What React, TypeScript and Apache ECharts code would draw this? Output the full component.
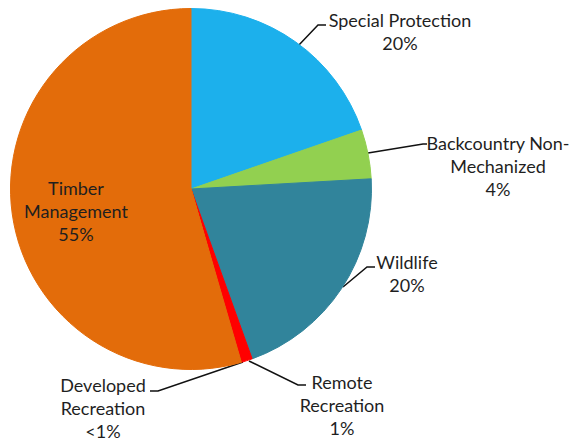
import React, { useEffect, useRef } from "react";
import * as echarts from "echarts";

const categories = [
  "Special Protection",
  "Backcountry Non-Mechanized",
  "Wildlife",
  "Remote Recreation",
  "Developed Recreation",
  "Timber Management",
];
const labelNames = [
  "Special Protection",
  "Backcountry Non-\nMechanized",
  "Wildlife",
  "Remote\nRecreation",
  "Developed\nRecreation",
  "Timber\nManagement",
];
const values = [19.7, 4.4, 20.4, 1.0, 0.1, 54.4];
const percentLabels = ["20%", "4%", "20%", "1%", "<1%", "55%"];
const colors = ["#1CB0EC", "#92D050", "#31849B", "#FF0000", "#E36C0A", "#E36C0A"];

// label placement (layout only)
const labelPos = [
  { x: 400, y: 8, line: [[298, 46], [318, 25], [326, 25]] },
  { x: 498, y: 131, line: [[368, 153], [423, 144], [427, 144]] },
  { x: 407, y: 250, line: [[343, 287], [367, 267], [375, 267]] },
  { x: 342, y: 370, line: [[249, 361], [298, 385], [306, 385]] },
  { x: 103, y: 373, line: [[243, 362], [158, 391], [150, 391]] },
  { x: 76, y: 176, line: null as number[][] | null },
];

export default function App() {
  const ref = useRef<HTMLDivElement>(null);
  useEffect(() => {
    if (!ref.current) return;
    const chart = echarts.init(ref.current, null, { renderer: "svg" });
    chart.setOption({
      animation: false,
      backgroundColor: "#ffffff",
      series: [
        {
          type: "pie",
          center: [191, 189],
          radius: 180.5,
          startAngle: 90,
          clockwise: true,
          avoidLabelOverlap: false,
          emphasis: { disabled: true },
          label: {
            show: true,
            position: "outside",
            fontFamily: "Lato",
            fontSize: 18,
            lineHeight: 23,
            color: "#1f1f1f",
            align: "center",
            formatter: (p: any) => labelNames[p.dataIndex] + "\n" + percentLabels[p.dataIndex],
          },
          labelLine: {
            show: true,
            lineStyle: { color: "#111111", width: 1.5 },
          },
          labelLayout: (params: any) => {
            const lp = labelPos[params.dataIndex];
            const res: any = { x: lp.x, y: lp.y, align: "center", verticalAlign: "top" };
            if (lp.line) res.labelLinePoints = lp.line;
            return res;
          },
          data: categories.map((c, i) => ({
            name: c,
            value: values[i],
            itemStyle: { color: colors[i], borderColor: colors[i], borderWidth: 1 },
            ...(i === 5
              ? { label: { position: "inside" }, labelLine: { show: false } }
              : {}),
          })),
        },
      ],
    });
    return () => chart.dispose();
  }, []);
  return (
    <div
      ref={ref}
      style={{ position: "fixed", left: 0, top: 0, width: 572, height: 440 }}
    />
  );
}
